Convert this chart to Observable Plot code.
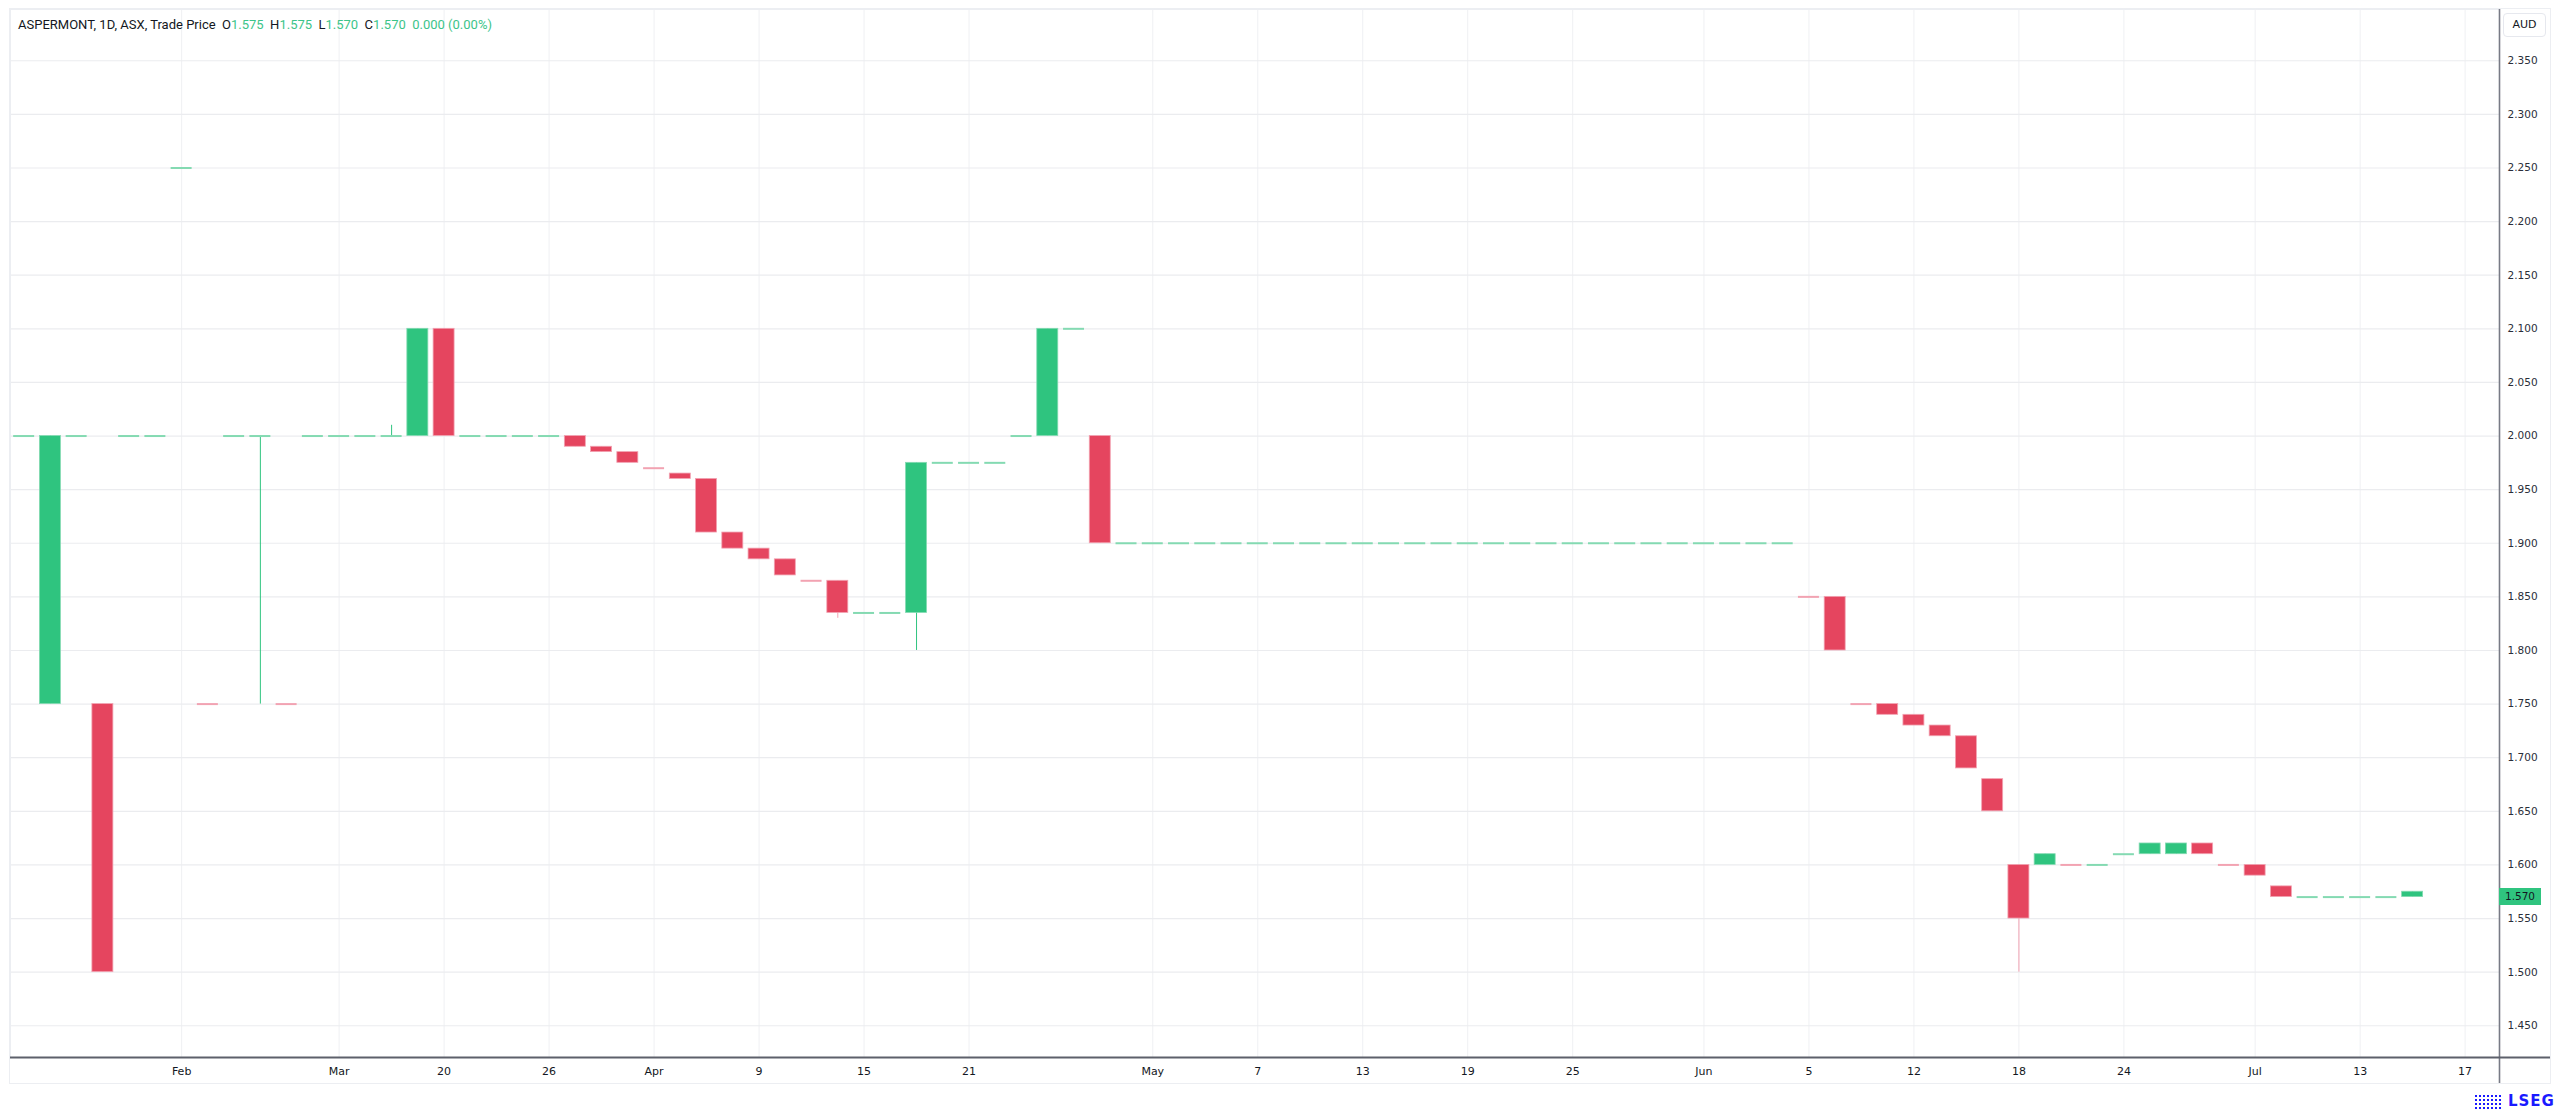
<!DOCTYPE html>
<html><head><meta charset="utf-8">
<script src="https://cdn.jsdelivr.net/npm/d3@7"></script>
<script src="https://cdn.jsdelivr.net/npm/@observablehq/plot@0.6"></script>
<style>
html,body{margin:0;padding:0;background:#fff;width:2560px;height:1115px;overflow:hidden;position:relative;}
#panel{position:absolute;left:9px;top:8px;width:2542px;height:1076px;border:1px solid #eceef2;box-sizing:border-box;}
#chart{position:absolute;left:0;top:0;}
#title{position:absolute;left:18px;top:17px;font:13px Roboto,sans-serif;color:#131722;white-space:pre;}
#title .v{color:#3cc48a;}
#aud{position:absolute;left:2503px;top:13px;width:43px;height:24px;border:1px solid #e6e8ee;border-radius:4px;box-sizing:border-box;font:11px "DejaVu Sans",sans-serif;color:#131722;text-align:center;line-height:22px;background:#fff;}
#last{position:absolute;left:2499px;width:42px;height:17px;font:10.5px "DejaVu Sans",sans-serif;color:#131722;text-align:center;line-height:17px;}
#logo{position:absolute;left:2474px;top:1092px;font:bold 15px "DejaVu Sans",sans-serif;color:#1a1aff;letter-spacing:1px;display:flex;align-items:center;}
#logo .ic{display:inline-block;width:28px;height:15px;margin-right:6px;background:radial-gradient(circle,#1a1aff 35%,transparent 40%) 0 0/4px 4px;}
</style></head><body>
<div id="panel"></div>
<div id="chart"></div>
<div id="title">ASPERMONT, 1D, ASX, Trade Price  O<span class="v">1.575</span>  H<span class="v">1.575</span>  L<span class="v">1.570</span>  C<span class="v">1.570</span>  <span class="v">0.000 (0.00%)</span></div>
<div id="aud">AUD</div>
<div id="last"></div>
<div id="logo"><span class="ic"></span>LSEG</div>
<script>
// one entry per bar slot (trading sessions shown on the chart)
const opens = [
2.000,1.750,2.000,1.750,2.000,2.000,2.250,1.750,2.000,2.000,
1.750,2.000,2.000,2.000,2.000,2.000,2.100,2.000,2.000,2.000,
2.000,2.000,1.990,1.985,1.970,1.965,1.960,1.910,1.895,1.885,
1.865,1.865,1.835,1.835,1.835,1.975,1.975,1.975,2.000,2.000,
2.100,2.000,
1.900,1.900,1.900,1.900,1.900,1.900,1.900,1.900,1.900,1.900,1.900,1.900,1.900,
1.900,1.900,1.900,1.900,1.900,1.900,1.900,1.900,1.900,1.900,1.900,1.900,1.900,
1.850,1.850,1.750,1.750,1.740,1.730,1.720,1.680,1.600,1.600,
1.600,1.600,1.610,1.610,1.610,1.620,1.600,1.600,1.580,1.570,
1.570,1.570,1.570,1.570];
const closes = [
2.000,2.000,2.000,1.500,2.000,2.000,2.250,1.750,2.000,2.000,
1.750,2.000,2.000,2.000,2.000,2.100,2.000,2.000,2.000,2.000,
2.000,1.990,1.985,1.975,1.970,1.960,1.910,1.895,1.885,1.870,
1.865,1.835,1.835,1.835,1.975,1.975,1.975,1.975,2.000,2.100,
2.100,1.900,
1.900,1.900,1.900,1.900,1.900,1.900,1.900,1.900,1.900,1.900,1.900,1.900,1.900,
1.900,1.900,1.900,1.900,1.900,1.900,1.900,1.900,1.900,1.900,1.900,1.900,1.900,
1.850,1.800,1.750,1.740,1.730,1.720,1.690,1.650,1.550,1.610,
1.600,1.600,1.610,1.620,1.620,1.610,1.600,1.590,1.570,1.570,
1.570,1.570,1.570,1.575];
const highs = [
2.000,2.000,2.000,1.750,2.000,2.000,2.250,1.750,2.000,2.000,
1.750,2.000,2.000,2.000,2.010,2.100,2.100,2.000,2.000,2.000,
2.000,2.000,1.990,1.985,1.970,1.965,1.960,1.910,1.895,1.885,
1.865,1.865,1.835,1.835,1.975,1.975,1.975,1.975,2.000,2.100,
2.100,2.000,
1.900,1.900,1.900,1.900,1.900,1.900,1.900,1.900,1.900,1.900,1.900,1.900,1.900,
1.900,1.900,1.900,1.900,1.900,1.900,1.900,1.900,1.900,1.900,1.900,1.900,1.900,
1.850,1.850,1.750,1.750,1.740,1.730,1.720,1.680,1.600,1.610,
1.600,1.600,1.610,1.620,1.620,1.620,1.600,1.600,1.580,1.570,
1.570,1.570,1.570,1.575];
const lows = [
2.000,1.750,2.000,1.500,2.000,2.000,2.250,1.750,2.000,1.750,
1.750,2.000,2.000,2.000,2.000,2.000,2.000,2.000,2.000,2.000,
2.000,1.990,1.985,1.975,1.970,1.960,1.910,1.895,1.885,1.870,
1.865,1.830,1.835,1.835,1.800,1.975,1.975,1.975,2.000,2.000,
2.100,1.900,
1.900,1.900,1.900,1.900,1.900,1.900,1.900,1.900,1.900,1.900,1.900,1.900,1.900,
1.900,1.900,1.900,1.900,1.900,1.900,1.900,1.900,1.900,1.900,1.900,1.900,1.900,
1.850,1.800,1.750,1.740,1.730,1.720,1.690,1.650,1.500,1.600,
1.600,1.600,1.610,1.610,1.610,1.610,1.600,1.590,1.570,1.570,
1.570,1.570,1.570,1.570];

const tickSlots  = [6,12,16,20,24,28,32,36,43,47,51,55,59,64,68,72,76,80,85,89,93];
const tickLabels = ["Feb","Mar","20","26","Apr","9","15","21","May","7","13","19","25","Jun","5","12","18","24","Jul","13","17"];
const priceTicks = [1.45,1.50,1.55,1.60,1.65,1.70,1.75,1.80,1.85,1.90,1.95,2.00,2.05,2.10,2.15,2.20,2.25,2.30,2.35];
const lastPrice = 1.570;

const UP = "#2fc47f", DOWN = "#e5455f", UP_L = "#84dab2", DOWN_L = "#f2a3b2";

const bars = opens.map((o, i) => {
  const c = closes[i];
  const prev = i > 0 ? closes[i - 1] : c;
  const up = c === o ? c >= prev : c > o;
  return {s: i, o, c, h: highs[i], l: lows[i], up, flat: c === o};
});

const xDomain = [-0.52, 94.31];
const yDomain = [1.4204, 2.3978];
const HW = 0.4;

const chart = Plot.plot({
  width: 2560, height: 1088,
  marginLeft: 10, marginTop: 9, marginRight: 61, marginBottom: 31,
  style: {fontFamily: "'DejaVu Sans', sans-serif", fontSize: "10.5px", color: "#131722", background: "transparent"},
  x: {type: "linear", domain: xDomain, axis: null, label: null},
  y: {type: "linear", domain: yDomain, axis: null, label: null},
  marks: [
    Plot.gridX(tickSlots, {stroke: "#eff0f3", strokeOpacity: 1}),
    Plot.gridY(priceTicks, {stroke: "#ebecef", strokeOpacity: 1, strokeWidth: 1.2}),
    Plot.frame({stroke: "#eceef2"}),
    Plot.ruleX(bars.filter(d => d.h > d.l), {x: "s", y1: "l", y2: "h", stroke: d => d.up ? UP : DOWN_L, strokeWidth: 1}),
    Plot.rect(bars.filter(d => !d.flat), {x1: d => d.s - HW, x2: d => d.s + HW, y1: "o", y2: "c", fill: d => d.up ? UP : DOWN, stroke: d => d.up ? UP_L : DOWN_L, strokeWidth: 0.8}),
    Plot.ruleY(bars.filter(d => d.flat), {x1: d => d.s - HW, x2: d => d.s + HW, y: "c", stroke: d => d.up ? UP_L : DOWN_L, strokeWidth: 2}),
    Plot.axisY(priceTicks, {anchor: "right", label: null, tickSize: 0, tickPadding: 8, tickFormat: d3.format(".3f"), fill: "#2a2e39", fontSize: 10.5}),
    Plot.axisX(tickSlots, {anchor: "bottom", label: null, tickSize: 0, tickPadding: 10, tickFormat: d => tickLabels[tickSlots.indexOf(d)], fill: "#131722", fontSize: 11}),
    Plot.ruleX([xDomain[1]], {stroke: "#787b86", strokeWidth: 1.6, insetBottom: -26}),
    Plot.ruleY([yDomain[0]], {stroke: "#5d606b", strokeWidth: 1.8, insetRight: -51})
  ]
});
document.getElementById("chart").appendChild(chart);

const yPos = chart.scale("y").apply(lastPrice);
const last = document.getElementById("last");
last.style.top = (yPos - 8.5) + "px";
last.style.background = UP;
last.textContent = d3.format(".3f")(lastPrice);
</script>
</body></html>
